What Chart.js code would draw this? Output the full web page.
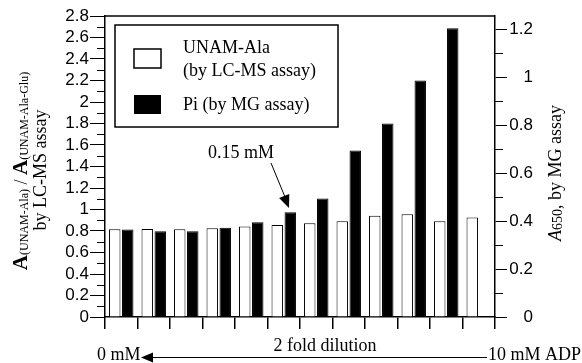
<!DOCTYPE html>
<html>
<head>
<meta charset="utf-8">
<script src="https://cdn.jsdelivr.net/npm/chart.js@4.4.0/dist/chart.umd.min.js"></script>
<style>
    body { margin: 0; background: #fff; }
    canvas { display: block; }
</style>
</head>
<body>
<canvas id="myChart" width="582" height="363"></canvas>
<script>
// 12 dilution steps, 0 mM -> 10 mM ADP (2 fold dilution)
let dilutionSteps = ['1', '2', '3', '4', '5', '6', '7', '8', '9', '10', '11', '12'];
// A(UNAM-Ala) / A(UNAM-Ala-Glu), LC-MS assay (left axis)
let unamAla = [0.816, 0.819, 0.816, 0.825, 0.841, 0.856, 0.872, 0.890, 0.943, 0.955, 0.890, 0.925];
// A650, MG assay (right axis)
let piMG = [0.365, 0.358, 0.358, 0.372, 0.395, 0.437, 0.494, 0.695, 0.807, 0.987, 1.205, null];

let leftMajor = [0, 0.2, 0.4, 0.6, 0.8, 1, 1.2, 1.4, 1.6, 1.8, 2, 2.2, 2.4, 2.6, 2.8];
let leftMinor = [0.1, 0.3, 0.5, 0.7, 0.9, 1.1, 1.3, 1.5, 1.7, 1.9, 2.1, 2.3, 2.5, 2.7];
let rightMajor = [0, 0.2, 0.4, 0.6, 0.8, 1, 1.2];
let rightMinor = [0.1, 0.3, 0.5, 0.7, 0.9, 1.1];

const serif = '"Liberation Serif", "Times New Roman", serif';
const sans = '"Liberation Sans", Arial, sans-serif';

function line(c, x1, y1, x2, y2) {
    c.beginPath();
    c.moveTo(x1, y1);
    c.lineTo(x2, y2);
    c.stroke();
}

function arrowHead(c, tipX, tipY, fromX, fromY, len, half) {
    let ang = Math.atan2(tipY - fromY, tipX - fromX);
    c.beginPath();
    c.moveTo(tipX, tipY);
    c.lineTo(tipX - len * Math.cos(ang) + half * Math.sin(ang), tipY - len * Math.sin(ang) - half * Math.cos(ang));
    c.lineTo(tipX - len * Math.cos(ang) - half * Math.sin(ang), tipY - len * Math.sin(ang) + half * Math.cos(ang));
    c.closePath();
    c.fill();
}

// draws text made of runs with different fonts, centred on x = 0
function drawRuns(c, runs) {
    let total = 0;
    runs.forEach(r => { c.font = r.f; total += c.measureText(r.t).width; });
    let x = -total / 2;
    runs.forEach(r => {
        c.font = r.f;
        c.fillText(r.t, x, r.dy || 0);
        x += c.measureText(r.t).width;
    });
}

const decor = {
    id: 'decor',
    afterDraw(chart) {
        const c = chart.ctx;
        const a = chart.chartArea;
        const y = chart.scales.y;
        const y2 = chart.scales.y2;
        c.save();
        c.strokeStyle = '#000';
        c.fillStyle = '#000';

        // top of the frame
        c.lineWidth = 1.5;
        line(c, a.left, a.top, a.right, a.top);

        // minor ticks
        c.lineWidth = 1;
        leftMinor.forEach(v => {
            let py = Math.round(y.getPixelForValue(v)) + 0.5;
            line(c, a.left - 8, py, a.left, py);
        });
        rightMinor.forEach(v => {
            let py = Math.round(y2.getPixelForValue(v)) + 0.5;
            line(c, a.right, py, a.right + 8, py);
        });

        // legend
        c.lineWidth = 1.5;
        c.strokeRect(a.left + 10, a.top + 9, 223, 102);
        c.fillStyle = '#fff';
        c.fillRect(a.left + 29, a.top + 33, 27, 19);
        c.strokeRect(a.left + 29, a.top + 33, 27, 19);
        c.fillStyle = '#000';
        c.fillRect(a.left + 29, a.top + 79, 27, 19);
        c.font = '18px ' + serif;
        c.textBaseline = 'middle';
        c.textAlign = 'left';
        c.fillText('UNAM-Ala', a.left + 78, a.top + 32);
        c.fillText('(by LC-MS assay)', a.left + 78, a.top + 55);
        c.fillText('Pi (by MG assay)', a.left + 78, a.top + 89);

        // 0.15 mM pointer
        c.fillText('0.15 mM', 208, 153);
        c.lineWidth = 1;
        line(c, 271, 163, 285, 197);
        arrowHead(c, 289, 208, 271, 163, 13, 5.5);

        // dilution arrow under the axis
        c.fillText('0 mM', 97, 355);
        c.fillText('10 mM ADP', 488, 355);
        c.textAlign = 'center';
        c.fillText('2 fold dilution', 325, 346);
        line(c, 150, 357.5, 487, 357.5);
        arrowHead(c, 141, 357.5, 160, 357.5, 12, 5);

        // left axis title
        c.textAlign = 'left';
        c.textBaseline = 'alphabetic';
        c.save();
        c.translate(27, 171);
        c.rotate(-Math.PI / 2);
        drawRuns(c, [
            { t: 'A', f: 'bold 21px ' + serif },
            { t: '(UNAM-Ala)', f: '12px ' + serif, dy: 1 },
            { t: ' / ', f: '18px ' + serif },
            { t: 'A', f: 'bold 21px ' + serif },
            { t: '(UNAM-Ala-Glu)', f: '12px ' + serif, dy: 1 }
        ]);
        c.restore();
        c.save();
        c.translate(46, 170);
        c.rotate(-Math.PI / 2);
        drawRuns(c, [{ t: 'by LC-MS assay', f: '18px ' + serif }]);
        c.restore();

        // right axis title
        c.save();
        c.translate(561, 173);
        c.rotate(-Math.PI / 2);
        drawRuns(c, [
            { t: 'A', f: 'italic 18px ' + serif },
            { t: '650', f: '14px ' + serif, dy: 1 },
            { t: ', by MG assay', f: '18px ' + serif }
        ]);
        c.restore();

        c.restore();
    }
};

let ctx = document.getElementById('myChart').getContext('2d');
let myChart = new Chart(ctx, {
    type: 'bar',
    data: {
        labels: dilutionSteps,
        datasets: [{
            label: 'UNAM-Ala (by LC-MS assay)',
            data: unamAla,
            yAxisID: 'y',
            backgroundColor: '#fff',
            borderColor: '#000',
            borderWidth: 1
        }, {
            label: 'Pi (by MG assay)',
            data: piMG,
            yAxisID: 'y2',
            backgroundColor: '#000',
            borderColor: '#000',
            borderWidth: 1
        }]
    },
    options: {
        responsive: false,
        animation: false,
        layout: { padding: { top: 16, left: 0, right: 49, bottom: 0 } },
        datasets: {
            bar: { categoryPercentage: 0.8, barPercentage: 0.88 }
        },
        plugins: {
            legend: { display: false },
            tooltip: { enabled: false }
        },
        scales: {
            x: {
                grid: { offset: true, drawOnChartArea: false, tickLength: 12, color: '#000', lineWidth: 1.5 },
                border: { display: true, color: '#000', width: 1.5 },
                ticks: { display: false },
                afterFit: s => { s.height = 46; }
            },
            y: {
                position: 'left',
                min: 0,
                max: 2.8,
                afterBuildTicks: s => { s.ticks = leftMajor.map(v => ({ value: v })); },
                grid: { drawOnChartArea: false, tickLength: 15, color: '#000', lineWidth: 1 },
                border: { display: true, color: '#000', width: 1.5 },
                ticks: {
                    autoSkip: false,
                    padding: 1,
                    color: '#000',
                    font: { family: sans, size: 17 },
                    callback: v => String(+v.toFixed(1))
                },
                afterFit: s => { s.width = 105; }
            },
            y2: {
                position: 'right',
                min: 0,
                max: 1.256,
                afterBuildTicks: s => { s.ticks = rightMajor.map(v => ({ value: v })); },
                grid: { drawOnChartArea: false, tickLength: 12, color: '#000', lineWidth: 1 },
                border: { display: true, color: '#000', width: 1.5 },
                ticks: {
                    autoSkip: false,
                    padding: 0,
                    color: '#000',
                    crossAlign: 'far',
                    font: { family: sans, size: 17 },
                    callback: v => String(+v.toFixed(1))
                },
                afterFit: s => { s.width = 38; }
            }
        }
    },
    plugins: [decor]
});
</script>
</body>
</html>
